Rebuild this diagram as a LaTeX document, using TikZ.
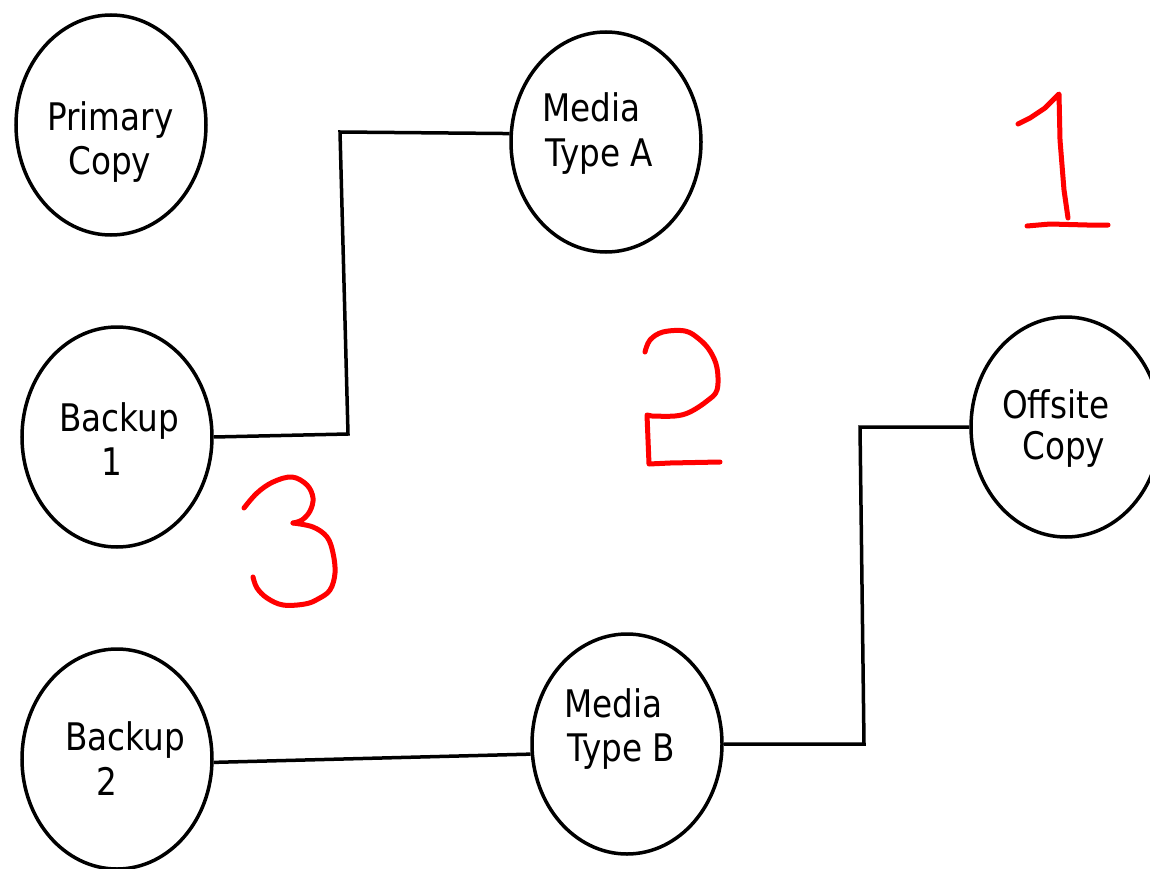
\documentclass[tikz,border=0pt]{standalone}
\usepackage{fontspec}
\newfontfamily\labfont[FakeStretch=0.86]{DejaVu Sans}
\usetikzlibrary{shapes.geometric}
\begin{document}
\begin{tikzpicture}[x=1pt,y=-1pt,
  oval/.style={draw,line width=3.5pt,ellipse,minimum width=190pt,minimum height=220pt,inner sep=0pt},
  lab/.style={font=\labfont\fontsize{38}{44}\selectfont,inner sep=0pt,anchor=base west},
  wire/.style={line width=3.5pt,line join=miter},
  hand/.style={draw=red,line width=5pt,line cap=round,line join=round}]
\useasboundingbox (0,0) rectangle (1150,869);
\clip (0,0) rectangle (1150,869);
\fill[white] (0,0) rectangle (1150,869);
% ellipses
\node[oval] (pc)  at (111,125) {};
\node[oval] (mA)  at (606,142) {};
\node[oval] (b1)  at (117,437) {};
\node[oval] (off) at (1066,427) {};
\node[oval] (b2)  at (117,759) {};
\node[oval] (mB)  at (627,744) {};
% labels
\node[lab] (pc1) at (47,131) {Primary};
\node[lab] (pc2) at (68,175) {Copy};
\node[lab] (mA1) at (542,122) {Media};
\node[lab] (mA2) at (545,167) {Type A};
\node[lab] (b1a) at (59,431) {Backup};
\node[lab] (b1b) at (101,475) {1};
\node[lab] (off1) at (1002,418) {Offsite};
\node[lab] (off2) at (1022,459) {Copy};
\node[lab] (b2a) at (65,750) {Backup};
\node[lab] (b2b) at (96,795) {2};
\node[lab] (mB1) at (564,717) {Media};
\node[lab] (mB2) at (567,761) {Type B};
% connector corners
\coordinate (k1) at (348,434);
\coordinate (k2) at (340,132);
\coordinate (k3) at (864,744);
\coordinate (k4) at (860,427);
\draw[wire] (b1.east) -- (k1) -- (k2) -- (mA.175);
\draw[wire] (b2.358) -- (mB.186);
\draw[wire] (mB.east) -- (k3) -- (k4) -- (off.west);
% hand-drawn red numbers
\draw[hand] (1018,124) -- (1030,118) -- (1045,108) -- (1059,94) -- (1060,140) -- (1064,190) -- (1068,218);
\draw[hand] (1027,226) -- (1050,224) -- (1087,225) -- (1108,225);
\draw[hand] plot[smooth,tension=0.6] coordinates {(645,352) (650,340) (663,332) (685,331) (699,339) (710,351) (717,368) (717,390) (707,401) (690,412) (675,416) (652,416)}
  -- (647,415) -- (649,464) -- (670,463) -- (720,462);
\draw[hand] plot[smooth,tension=0.6] coordinates {(244,508) (257,493) (273,482) (292,477) (307,485) (313,498) (310,511) (302,520) (293,523)};
\draw[hand] plot[smooth,tension=0.6] coordinates {(293,523) (313,527) (327,537) (333,553) (335,573) (330,590) (318,599) (305,604) (283,605) (267,598) (257,588) (253,577)};
\end{tikzpicture}
\end{document}
